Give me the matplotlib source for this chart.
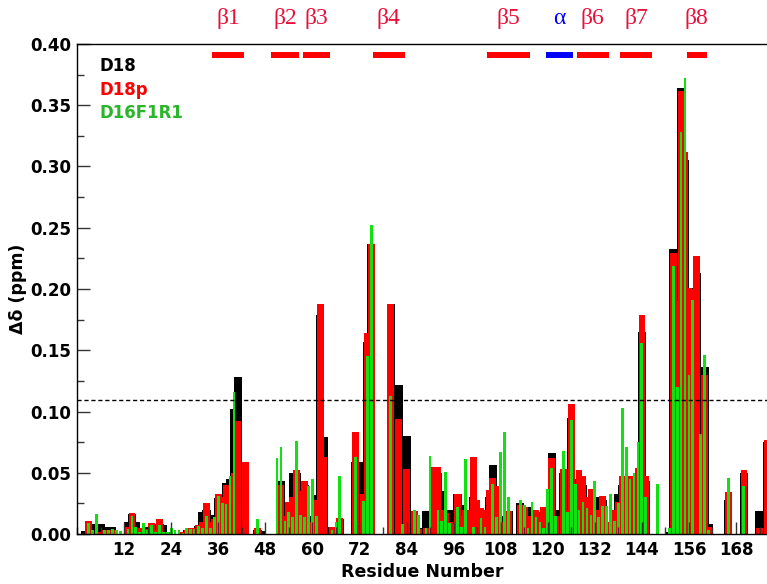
import matplotlib.pyplot as plt
import numpy as np
from matplotlib.ticker import MultipleLocator, FormatStrFormatter

plt.rcParams['font.family'] = ['DejaVu Sans']

# chemical shift perturbation per residue (ppm)
residues = np.arange(1, 177)

d18 = [
    0, 0.0025, 0.008, 0.008, 0.006, 0.008, 0.003, 0.0057, 0.0057, 0, 0, 0,
    0.0095, 0.016, 0.010, 0.005, 0.004, 0.006, 0.006, 0.007, 0.008, 0.007, 0.002, 0,
    0, 0, 0.002, 0.003, 0.005, 0.005, 0.0065, 0.018, 0.020, 0.012, 0.0155, 0.029,
    0.030, 0.042, 0.045, 0.102, 0.128, 0, 0, 0, 0, 0.003, 0.0025, 0,
    0, 0, 0, 0.0435, 0.020, 0.022, 0.0495, 0.050, 0.030, 0.040, 0.015, 0.012,
    0.032, 0.179, 0.079, 0, 0.006, 0.006, 0.012, 0, 0, 0, 0.059, 0.059,
    0.035, 0.157, 0.237, 0, 0, 0, 0, 0.188, 0, 0.122, 0, 0.080,
    0, 0.018, 0.005, 0.003, 0.019, 0.005, 0.050, 0.050, 0.035, 0.017, 0.020, 0.011,
    0.033, 0.024, 0.015, 0.015, 0.030, 0.020, 0.015, 0.020, 0.030, 0.056, 0.020, 0.015,
    0.010, 0.019, 0, 0, 0.025, 0.020, 0.022, 0.010, 0.018, 0.012, 0.015, 0.010,
    0.066, 0.020, 0, 0.0495, 0.020, 0.095, 0.030, 0.045, 0.040, 0.030, 0.030, 0.020,
    0.030, 0.028, 0.010, 0.010, 0.015, 0.033, 0.040, 0.030, 0.030, 0.040, 0.050, 0.165,
    0.043, 0, 0, 0, 0, 0, 0.002, 0.233, 0.190, 0.364, 0.305, 0.201,
    0.201, 0.213, 0.050, 0.136, 0.008, 0, 0, 0, 0, 0.028, 0, 0,
    0, 0.050, 0, 0, 0, 0.019, 0, 0.075,
]

d18p = [
    0, 0, 0.0105, 0, 0, 0.002, 0.003, 0.003, 0.0035, 0, 0, 0,
    0.006, 0.017, 0.004, 0.005, 0.003, 0.004, 0.009, 0.003, 0.012, 0.002, 0.002, 0,
    0, 0, 0.002, 0.003, 0.005, 0.005, 0.0073, 0.010, 0.025, 0.010, 0.012, 0.033,
    0.030, 0.040, 0.040, 0.050, 0.092, 0, 0.059, 0, 0, 0.005, 0, 0,
    0, 0, 0, 0.040, 0.015, 0.026, 0.030, 0.052, 0.035, 0.043, 0.010, 0.010,
    0.028, 0.188, 0.063, 0, 0.006, 0.005, 0.0128, 0, 0, 0, 0.083, 0,
    0.033, 0.164, 0.237, 0, 0, 0, 0, 0.188, 0, 0.094, 0, 0.053,
    0, 0.019, 0.004, 0, 0.005, 0, 0.055, 0.055, 0.020, 0.017, 0.010, 0.008,
    0.033, 0.015, 0.020, 0.020, 0.063, 0.028, 0.021, 0.020, 0.036, 0.046, 0.039, 0.010,
    0.005, 0.019, 0, 0, 0.024, 0.022, 0.015, 0.010, 0.020, 0.015, 0.022, 0.010,
    0.062, 0.015, 0, 0.053, 0.020, 0.106, 0.030, 0.052, 0.047, 0.030, 0.037, 0.020,
    0.020, 0.031, 0.010, 0.010, 0.020, 0.026, 0.047, 0.040, 0.047, 0.030, 0.054, 0.179,
    0.047, 0, 0, 0, 0, 0, 0, 0.229, 0.190, 0.362, 0.312, 0.201,
    0.200, 0.227, 0.060, 0.130, 0.006, 0, 0, 0, 0, 0.034, 0, 0,
    0, 0.052, 0, 0, 0, 0.005, 0, 0.077,
]

d16f1r1 = [
    0, 0, 0.009, 0.003, 0.016, 0, 0.003, 0.003, 0.004, 0.0033, 0.0025, 0,
    0.004, 0.015, 0.006, 0.002, 0.009, 0.003, 0.007, 0.002, 0.007, 0.002, 0.002, 0.005,
    0.003, 0.003, 0.001, 0.0046, 0.004, 0.004, 0.0065, 0.005, 0.015, 0.005, 0.014, 0.031,
    0.025, 0.0245, 0.047, 0.116, 0, 0, 0, 0, 0, 0.012, 0, 0,
    0, 0, 0.062, 0.071, 0.011, 0.018, 0.0136, 0.076, 0.0155, 0.014, 0.039, 0.045,
    0.015, 0, 0, 0, 0.003, 0.010, 0.047, 0, 0, 0, 0.063, 0,
    0.027, 0.145, 0.252, 0, 0, 0, 0, 0.113, 0, 0, 0.008, 0,
    0, 0.0196, 0.0155, 0, 0.005, 0.064, 0, 0.020, 0.011, 0.051, 0.0087, 0,
    0.022, 0.006, 0.061, 0, 0.006, 0, 0.013, 0.006, 0, 0.041, 0.0136, 0.067,
    0.083, 0.030, 0, 0, 0.028, 0.024, 0.005, 0.026, 0.014, 0.010, 0.005, 0.037,
    0.054, 0.0147, 0, 0.068, 0.018, 0.093, 0.041, 0.020, 0.026, 0.021, 0.0155, 0.043,
    0.014, 0.023, 0.023, 0.033, 0.011, 0.025, 0.103, 0.071, 0.045, 0.050, 0.075, 0.156,
    0.030, 0, 0, 0.041, 0, 0, 0.005, 0.219, 0.120, 0.328, 0.372, 0.130,
    0.191, 0, 0.082, 0.146, 0.003, 0, 0, 0, 0, 0.046, 0, 0,
    0, 0.039, 0, 0, 0, 0, 0, 0,
]

# secondary structure elements (first and last residue)
ss_names = ['β1', 'β2', 'β3', 'β4', 'β5', 'α', 'β6', 'β7', 'β8']
ss_start = [35, 50, 58, 76, 105, 120, 128, 139, 156]
ss_end = [42, 56, 64, 83, 115, 126, 135, 146, 160]

cutoff = 0.109

green = '#11e011'

fig = plt.figure(figsize=(7.67, 5.84), dpi=100)
ax = fig.add_axes([0.1004, 0.0856, 0.8996, 0.8391])

ax.bar(residues, d18, width=2.1, color='black', linewidth=0, zorder=1)
ax.bar(residues, d18p, width=1.7, color='#ff0000', linewidth=0, zorder=1.1)
ax.bar(residues, d16f1r1, width=0.7, color=green, linewidth=0, zorder=1.2)

ax.axhline(cutoff, color='black', linestyle=(0, (3, 2)), linewidth=1.0, zorder=3)

# secondary structure bars and labels
for name, s, e in zip(ss_names, ss_start, ss_end):
    c = '#0000ff' if name == 'α' else '#ff0000'
    tc = '#0000ff' if name == 'α' else '#e8103a'
    ax.barh(0.391, e - s + 1, height=0.0055, left=s - 0.5, color=c, linewidth=0)
    ax.text((s + e) / 2, 0.421, name, color=tc, ha='center', va='center',
            fontsize=17, family=['Liberation Serif', 'DejaVu Serif'], clip_on=False)

# series labels
ax.text(0.033, 0.955, 'D18', transform=ax.transAxes, color='black',
        fontsize=12, fontweight='bold', va='center')
ax.text(0.033, 0.907, 'D18p', transform=ax.transAxes, color='#ff0000',
        fontsize=12, fontweight='bold', va='center')
ax.text(0.033, 0.860, 'D16F1R1', transform=ax.transAxes, color='#2ab52a',
        fontsize=12, fontweight='bold', va='center')

ax.set_xlim(0, 175.9)
ax.set_ylim(0, 0.40)
ax.xaxis.set_major_locator(MultipleLocator(12))
ax.xaxis.set_minor_locator(MultipleLocator(6))
ax.yaxis.set_major_locator(MultipleLocator(0.05))
ax.yaxis.set_minor_locator(MultipleLocator(0.025))
ax.yaxis.set_major_formatter(FormatStrFormatter('%.2f'))
ax.set_xticks(np.arange(12, 170, 12))

ax.tick_params(which='major', direction='in', length=9, width=1, color='#333333',
               labelsize=12)
ax.tick_params(which='minor', direction='in', length=5, width=1, color='#333333')
ax.tick_params(axis='x', which='major', pad=5)
ax.tick_params(axis='y', which='major', pad=4)
for lab in ax.get_xticklabels() + ax.get_yticklabels():
    lab.set_fontweight('bold')

ax.spines['right'].set_visible(False)
for side in ['left', 'bottom', 'top']:
    ax.spines[side].set_linewidth(1.0)

ax.set_xlabel('Residue Number', fontsize=12.5, fontweight='bold')
ax.set_ylabel('Δδ (ppm)', fontsize=12.5, fontweight='bold')
ax.xaxis.set_label_coords(0.5, -0.06)
ax.yaxis.set_label_coords(-0.072, 0.5)

fig.savefig('out.png', dpi=100)
